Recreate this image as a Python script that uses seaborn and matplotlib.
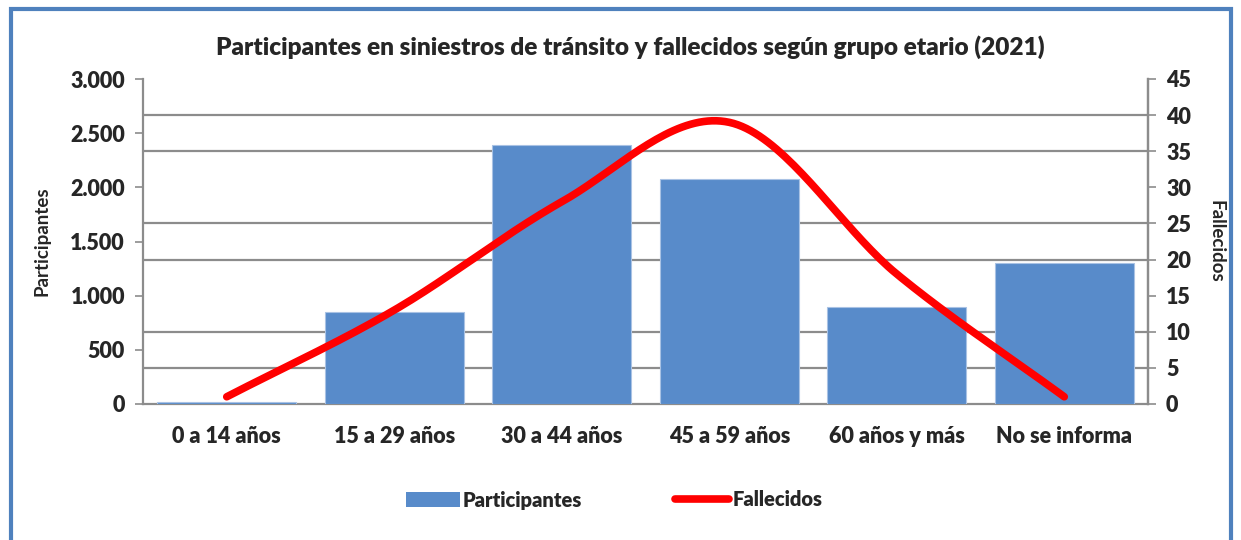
import numpy as np
import pandas as pd
import matplotlib
matplotlib.use("Agg")
import matplotlib.pyplot as plt
import seaborn as sns
from matplotlib.patches import Rectangle
from matplotlib.lines import Line2D
from matplotlib.patches import Patch

categories = ["0 a 14 años", "15 a 29 años", "30 a 44 años", "45 a 59 años", "60 años y más", "No se informa"]
participantes = [22, 850, 2390, 2080, 900, 1300]
fallecidos = [1, 13, 28, 39, 18, 1]
left_ticks = [0, 500, 1000, 1500, 2000, 2500, 3000]
left_tick_labels = ["0", "500", "1.000", "1.500", "2.000", "2.500", "3.000"]
right_ticks = [0, 5, 10, 15, 20, 25, 30, 35, 40, 45]

sns.set_theme(style="white")
plt.rcParams["font.family"] = ["Lato", "DejaVu Sans"]

BLUE = "#588BCA"
GRID = "#8C8C8C"
TICK_FS = 15.5
W = "heavy"

fig = plt.figure(figsize=(12.41, 5.4), dpi=100)
ax = fig.add_axes([143 / 1241, 1 - 404 / 540, (1148 - 143) / 1241, (404 - 79) / 540])

df = pd.DataFrame({"cat": categories, "val": participantes})
sns.barplot(data=df, x="cat", y="val", color=BLUE, saturation=1, width=0.83, ax=ax, zorder=3,
            edgecolor="#A9C2E4", linewidth=0.8)

ax.set_ylim(0, 3000)
ax.set_xlim(-0.5, len(categories) - 0.5)
ax.set_yticks(left_ticks)
ax.set_yticklabels(left_tick_labels, fontsize=TICK_FS, fontweight=W)
ax.set_yticks([3000 * k / 9 for k in range(10)], minor=True)
ax.grid(False)
ax.grid(True, which="minor", axis="y", color=GRID, linewidth=1.6, zorder=0)
ax.set_axisbelow(True)
ax.tick_params(axis="y", which="major", length=6, width=1.2, color=GRID, direction="out", left=True, pad=7)
ax.tick_params(axis="y", which="minor", length=0)
ax.tick_params(axis="x", length=0, pad=16)
for lbl in ax.get_xticklabels():
    lbl.set_fontsize(TICK_FS)
    lbl.set_fontweight(W)
ax.set_xlabel("")
ax.set_ylabel("Participantes", fontsize=13.5, fontweight="bold", labelpad=14)
ax.spines["top"].set_visible(False)
for s in ["left", "right", "bottom"]:
    ax.spines[s].set_color(GRID)
    ax.spines[s].set_linewidth(1.6)

ax2 = ax.twinx()
# smooth display curve (Catmull-Rom through the data points)
xs = np.arange(len(fallecidos), dtype=float)
ys = np.array(fallecidos, dtype=float)
P = np.concatenate([[ys[0] - (ys[1] - ys[0])], ys, [ys[-1] + (ys[-1] - ys[-2])]])
X = np.concatenate([[xs[0] - 1], xs, [xs[-1] + 1]])
cx, cy = [], []
t = np.linspace(0, 1, 40)
def cr(a0, a1, a2, a3):
    return 0.5 * ((2 * a1) + (-a0 + a2) * t + (2 * a0 - 5 * a1 + 4 * a2 - a3) * t ** 2
                  + (-a0 + 3 * a1 - 3 * a2 + a3) * t ** 3)
for i in range(1, len(P) - 2):
    cx.extend(cr(X[i - 1], X[i], X[i + 1], X[i + 2]))
    cy.extend(cr(P[i - 1], P[i], P[i + 1], P[i + 2]))
ax2.plot(cx, cy, color="#FF0000", linewidth=5.5, solid_capstyle="round", zorder=5)
ax2.set_ylim(0, 45)
ax2.set_yticks(right_ticks)
ax2.set_yticklabels([str(v) for v in right_ticks], fontsize=TICK_FS, fontweight=W)
ax2.tick_params(axis="y", length=6, width=1.2, color=GRID, direction="out", right=True, pad=7)
ax2.grid(False)
ax2.set_ylabel("Fallecidos", fontsize=13.5, fontweight="bold", rotation=270, labelpad=24)
for s in ["top", "left", "bottom"]:
    ax2.spines[s].set_visible(False)
ax2.spines["right"].set_color(GRID)
ax2.spines["right"].set_linewidth(1.6)
ax2.set_xlim(-0.5, len(categories) - 0.5)

fig.text(630 / 1241, 1 - 47 / 540, "Participantes en siniestros de tránsito y fallecidos según grupo etario (2021)",
         ha="center", va="center", fontsize=17.6, fontweight=W)

handles = [Patch(facecolor=BLUE, edgecolor="none"),
           Line2D([0], [0], color="#FF0000", linewidth=5.5, solid_capstyle="round")]
fig.legend(handles, ["Participantes", "Fallecidos"], loc="center", bbox_to_anchor=(614 / 1241, 1 - 500 / 540),
           ncol=2, frameon=False, prop={"size": 14.5, "weight": W}, handlelength=2.7, handletextpad=0.15,
           columnspacing=4.6)

fig.add_artist(Rectangle((11 / 1241, -0.05), (1231 - 11) / 1241, 1.05 - 9 / 540,
                         transform=fig.transFigure, fill=False, edgecolor="#4F81BD", linewidth=3, clip_on=False))

fig.savefig("out.png", dpi=100)
